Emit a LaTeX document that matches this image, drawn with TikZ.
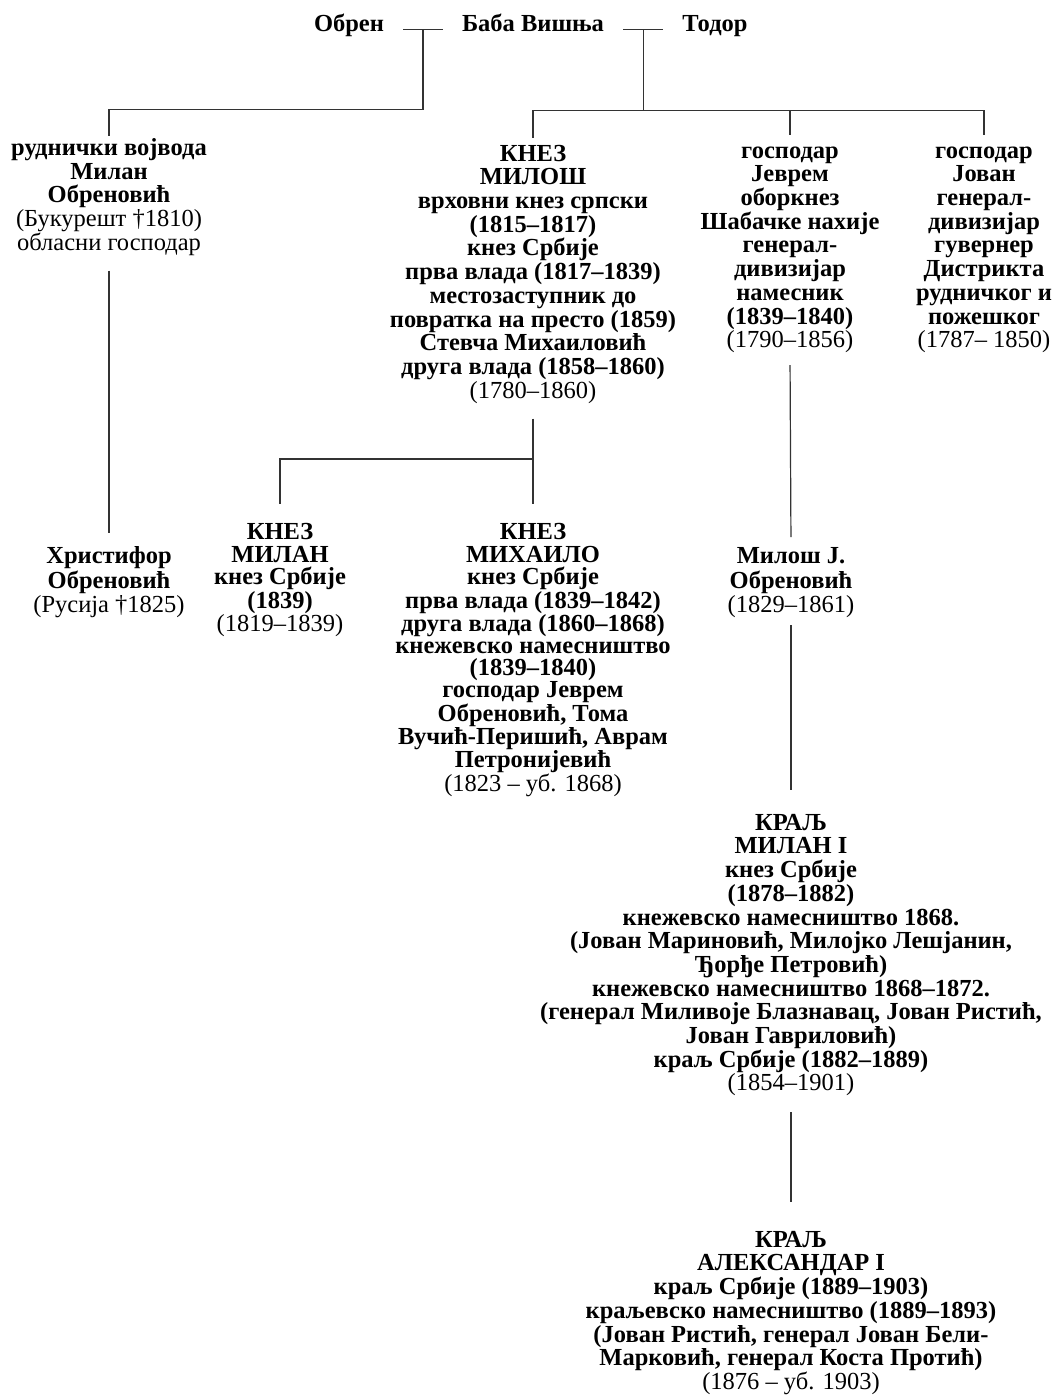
\documentclass[tikz,border=0pt]{standalone}
\usepackage{fontspec}
\setmainfont{Liberation Serif}
\usetikzlibrary{calc}

\begin{document}
\begin{tikzpicture}[x=1pt,y=-1pt,lk/.style={draw=black!80,line width=1.2pt},nm/.style={font=\fontsize{24.5}{23.7}\selectfont\bfseries,inner sep=0pt,anchor=base},per/.style={nm,align=center,anchor=north},per3/.style={per,font=\fontsize{24.5}{22}\selectfont\bfseries}]
\useasboundingbox (0,0) rectangle (1056,1396);
\node[nm] (obren) at (349,32) {Обрен};
\node[nm] (baba) at (533,32) {Баба Вишња};
\node[nm] (todor) at (715,32) {Тодор};
\node[per] (vojvoda) at (109,138.4) {\strut руднички војвода\\Милан\\Обреновић\\\mdseries(Букурешт †1810)\\\mdseries\strut обласни господар};
\node[per] (milos) at (533,144.4) {\strut КНЕЗ\\МИЛОШ\\врховни кнез српски\\(1815–1817)\\кнез Србије\\прва влада (1817–1839)\\местозаступник до\\повратка на престо (1859)\\Стевча Михаиловић\\друга влада (1858–1860)\\\mdseries\strut(1780–1860)};
\node[per] (jevrem) at (790,141.4) {\strut господар\\Јеврем\\оборкнез\\Шабачке нахије\\генерал-\\дивизијар\\намесник\\(1839–1840)\\\mdseries\strut(1790–1856)};
\node[per] (jovan) at (984,141.4) {\strut господар\\Јован\\генерал-\\дивизијар\\гувернер\\Дистрикта\\рудничког и\\пожешког\\\mdseries\strut(1787– 1850)};
\node[per3] (hristifor) at (109,546.6) {\strut Христифор\\Обреновић\\\mdseries\strut(Русија †1825)};
\node[per3] (knezmilan) at (280,522.6) {\strut КНЕЗ\\МИЛАН\\кнез Србије\\(1839)\\\mdseries\strut(1819–1839)};
\node[per3] (mihailo) at (533,522.6) {\strut КНЕЗ\\МИХАИЛО\\кнез Србије\\прва влада (1839–1842)\\друга влада (1860–1868)\\кнежевско намесништво\\(1839–1840)\\господар Јеврем\\Обреновић, Тома\\Вучић-Перишић, Аврам\\Петронијевић\\\mdseries\strut(1823 – уб. 1868)};
\node[per3] (milosj) at (791,547.6) {\strut Милош Ј.\\Обреновић\\\mdseries\strut(1829–1861)};
\node[per] (milan1) at (791,813.4) {\strut КРАЉ\\МИЛАН I\\кнез Србије\\(1878–1882)\\кнежевско намесништво 1868.\\(Јован Мариновић, Милојко Лешјанин,\\Ђорђе Петровић)\\кнежевско намесништво 1868–1872.\\(генерал Миливоје Блазнавац, Јован Ристић,\\Јован Гавриловић)\\краљ Србије (1882–1889)\\\mdseries\strut(1854–1901)};
\node[per] (aleksandar) at (791,1230.4) {\strut КРАЉ\\АЛЕКСАНДАР I\\краљ Србије (1889–1903)\\краљевско намесништво (1889–1893)\\(Јован Ристић, генерал Јован Бели-\\Марковић, генерал Коста Протић)\\\mdseries\strut(1876 – уб. 1903)};
\draw[lk] ([xshift=19pt]obren.mid east) -- ([xshift=-19pt]baba.mid west) coordinate[pos=.5] (p1);
\draw[lk] ([xshift=19pt]baba.mid east) -- ([xshift=-19pt]todor.mid west) coordinate[pos=.5] (p2);
\draw[lk,shorten >=2pt] (p1) -- ++(0,80) -| (vojvoda.north);
\draw[lk] (p2) -- ++(0,81) coordinate (b2);
\draw[lk,shorten >=6pt] (b2) -| (milos.north);
\draw[lk,shorten >=6pt] (b2) -| (jovan.north);
\draw[lk,shorten >=6pt] (jevrem.north |- b2) -- (jevrem.north);
\draw[lk,shorten <=13pt,shorten >=13.6pt] (vojvoda.south) -- (hristifor.north);
\draw[lk,shorten <=13pt,shorten >=18.6pt] (milos.south) -- (mihailo.north);
\coordinate (b3) at (533,459);
\draw[lk,shorten >=18.6pt] (b3) -| (knezmilan.north);
\draw[lk,shorten <=10pt,shorten >=10.6pt] (jevrem.south) -- (milosj.north);
\draw[lk,shorten <=6.4pt,shorten >=23pt] (milosj.south) -- (milan1.north);
\draw[lk,shorten <=14pt,shorten >=28pt] (milan1.south) -- (aleksandar.north);
\end{tikzpicture}
\end{document}
